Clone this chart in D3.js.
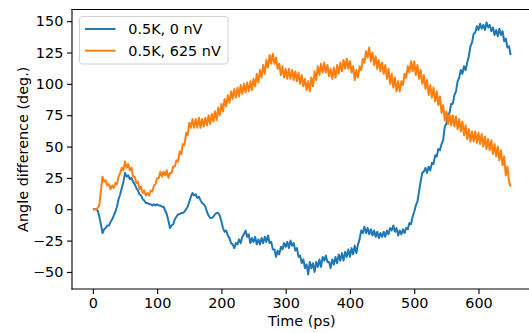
<!DOCTYPE html>
<html>
<head>
<meta charset="utf-8">
<script src="https://cdn.jsdelivr.net/npm/d3@7"></script>
<style>
  body { margin: 0; background: #fff; }
  svg { display: block; font-family: "DejaVu Sans", sans-serif; }
</style>
</head>
<body>
<svg id="chart" width="529" height="333"></svg>
<script>
// time axis, 2.5 ps steps from 0 to 650
const times = d3.range(0, 650.1, 2.5);

// 0.5K, 0 nV  (one row = 50 ps)
const angle0nV = [
  0, 0, 0, -1, -6, -12, -19, -16, -15, -13, -13, -10, -8, -5, -2, 2, 8, 12, 17, 22,
  29, 26, 27, 24, 25, 22, 20, 17, 15, 12, 11, 8, 7, 5, 5, 4, 4, 3, 4, 3,
  4, 3, 3, 2, 2, -1, -4, -9, -15, -13, -12, -8, -6, -4, -4, -3, -3, -2, 0, 2,
  6, 10, 13, 11, 12, 9, 10, 7, 5, 4, 2, -2, -5, -7, -7, -6, -4, -3, -3, -5,
  -10, -15, -18, -17, -21, -23, -27, -28, -31, -27, -28, -24, -27, -22, -20, -17, -22, -20, -27, -23,
  -26, -22, -28, -24, -28, -23, -27, -22, -26, -21, -27, -26, -32, -32, -38, -33, -36, -30, -32, -27,
  -30, -26, -31, -25, -29, -27, -33, -31, -38, -37, -43, -40, -47, -44, -52, -42, -47, -43, -50, -42,
  -46, -40, -46, -38, -41, -37, -42, -42, -47, -40, -44, -38, -43, -36, -41, -35, -41, -34, -38, -32,
  -38, -31, -36, -29, -35, -28, -24, -17, -19, -14, -19, -15, -20, -16, -21, -17, -22, -18, -23, -19,
  -22, -18, -22, -17, -20, -15, -17, -13, -18, -15, -21, -17, -20, -16, -19, -15, -16, -11, -12, -6,
  -2, 3, 6, 14, 22, 29, 30, 33, 29, 34, 31, 37, 36, 43, 42, 48, 47, 52, 55, 66,
  68, 76, 77, 84, 84, 91, 94, 102, 105, 111, 108, 114, 111, 117, 122, 130, 133, 140, 141, 146,
  143, 148, 144, 147, 143, 149, 145, 147, 142, 145, 139, 143, 138, 144, 139, 142, 134, 136, 129, 130,
  123
];

// 0.5K, 625 nV  (one row = 50 ps)
const angle625nV = [
  0, 0, 0, 1, 3, 15, 26, 22, 23, 19, 20, 16, 19, 17, 21, 20, 26, 29, 33, 31,
  38, 33, 36, 31, 33, 26, 26, 21, 22, 16, 18, 13, 15, 11, 13, 11, 15, 14, 19, 20,
  25, 25, 30, 26, 30, 27, 31, 25, 29, 29, 34, 34, 39, 38, 46, 44, 52, 51, 61, 59,
  69, 65, 72, 65, 72, 65, 73, 65, 72, 66, 73, 67, 75, 68, 76, 70, 78, 71, 81, 75,
  84, 78, 88, 82, 91, 85, 94, 88, 96, 89, 97, 90, 99, 92, 100, 93, 101, 94, 102, 95,
  104, 98, 108, 101, 111, 105, 115, 108, 119, 113, 123, 116, 124, 116, 121, 112, 116, 107, 114, 105,
  112, 104, 112, 104, 111, 103, 110, 102, 109, 100, 107, 98, 104, 95, 102, 94, 105, 98, 110, 103,
  114, 107, 116, 109, 117, 109, 115, 106, 112, 104, 113, 105, 115, 108, 117, 110, 119, 112, 120, 112,
  118, 109, 114, 103, 111, 105, 114, 111, 120, 117, 126, 121, 129, 118, 125, 115, 122, 112, 119, 110,
  117, 108, 115, 104, 112, 100, 108, 97, 105, 94, 102, 94, 102, 99, 108, 105, 114, 109, 118, 110,
  118, 107, 115, 104, 111, 100, 107, 96, 103, 91, 99, 89, 97, 86, 94, 83, 90, 77, 83, 71,
  78, 68, 76, 67, 75, 66, 74, 64, 72, 62, 70, 59, 67, 56, 64, 54, 62, 54, 62, 53,
  61, 52, 60, 50, 58, 48, 56, 47, 55, 44, 52, 42, 50, 39, 47, 35, 42, 27, 34, 22,
  18
];

const seriesNames = ['0.5K, 0 nV', '0.5K, 625 nV'];
const seriesColors = ['#1f77b4', '#ff7f0e'];
const xTicks = [0, 100, 200, 300, 400, 500, 600];
const yTicks = [-50, -25, 0, 25, 50, 75, 100, 125, 150];

const svg = d3.select('#chart');
const plotL = 72, plotT = 9.5, plotB = 289, plotR = 531.5;
const fontSize = '14.4px';

const x = d3.scaleLinear().domain([-32.5, 682.5]).range([plotL, plotR]);
const y = d3.scaleLinear().domain([-63.6, 159.3]).range([plotB, plotT]);

// lines
const line = d3.line()
  .x((d, i) => x(times[i]))
  .y(d => y(d));

const allSeries = [angle0nV, angle625nV];
svg.append('g')
  .selectAll('path')
  .data(allSeries)
  .enter()
  .append('path')
  .attr('d', d => line(d))
  .style('fill', 'none')
  .style('stroke', (d, i) => seriesColors[i])
  .style('stroke-width', 2)
  .style('stroke-linejoin', 'round');

// axes
const xAxis = svg.append('g')
  .attr('transform', `translate(0,${plotB})`)
  .call(d3.axisBottom(x).tickValues(xTicks).tickSize(5).tickPadding(4));
const yAxis = svg.append('g')
  .attr('transform', `translate(${plotL},0)`)
  .call(d3.axisLeft(y).tickValues(yTicks).tickSize(5).tickPadding(3.7)
    .tickFormat(d => d < 0 ? '\u2212' + Math.abs(d) : d));

[xAxis, yAxis].forEach(a => {
  a.select('.domain').remove();
  a.selectAll('text').style('font-size', fontSize).style('fill', '#000')
    .style('font-family', '"DejaVu Sans", sans-serif');
  a.selectAll('line').style('stroke', '#000').style('stroke-width', 1.1);
});

// spines
const spines = [
  [plotL, plotT, plotL, plotB],
  [plotL, plotB, plotR, plotB],
  [plotL, plotT, plotR, plotT],
  [plotR, plotT, plotR, plotB]
];
svg.append('g')
  .selectAll('line')
  .data(spines)
  .enter()
  .append('line')
  .attr('x1', d => d[0]).attr('y1', d => d[1])
  .attr('x2', d => d[2]).attr('y2', d => d[3])
  .style('stroke', '#000').style('stroke-width', 1.1)
  .style('stroke-linecap', 'square');

// axis labels
svg.append('text')
  .attr('x', (plotL + plotR) / 2)
  .attr('y', 325.5)
  .attr('text-anchor', 'middle')
  .style('font-size', fontSize)
  .text('Time (ps)');

svg.append('text')
  .attr('transform', `translate(27.5,${(plotT + plotB) / 2}) rotate(-90)`)
  .attr('text-anchor', 'middle')
  .style('font-size', fontSize)
  .text('Angle difference (deg.)');

// legend
const legend = svg.append('g');
legend.append('rect')
  .attr('x', 79.5).attr('y', 16.5)
  .attr('width', 148.5).attr('height', 47.5)
  .attr('rx', 3)
  .style('fill', 'rgba(255,255,255,0.8)')
  .style('stroke', '#d0d0d0')
  .style('stroke-width', 1);

seriesNames.forEach((name, i) => {
  const ly = 29 + i * 21.7;
  legend.append('line')
    .attr('x1', 85).attr('x2', 115.5).attr('y1', ly).attr('y2', ly)
    .style('stroke', seriesColors[i]).style('stroke-width', 2);
  legend.append('text')
    .attr('x', 128.3).attr('y', ly + 5.2)
    .style('font-size', fontSize)
    .text(name);
});
</script>
</body>
</html>
